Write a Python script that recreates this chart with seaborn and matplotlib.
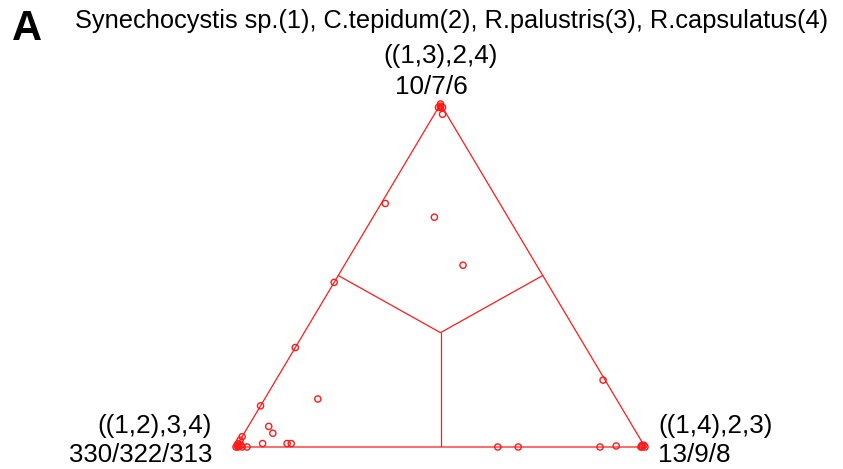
import numpy as np
import pandas as pd
import matplotlib
matplotlib.use("Agg")
import matplotlib.pyplot as plt
import seaborn as sns

# Likelihood mapping of quartets for four taxa
title = "Synechocystis sp.(1), C.tepidum(2), R.palustris(3), R.capsulatus(4)"
panel = "A"
topologies = ["((1,2),3,4)", "((1,4),2,3)", "((1,3),2,4)"]   # left, right, top corners
counts = ["330/322/313", "13/9/8", "10/7/6"]

# posterior weights of each quartet for the three topologies
w_left = [0.000, 0.005, 0.010, 0.000, 0.003, 0.010,
          0.280, 0.180, 0.180, 0.520, 0.710, 0.880,
          0.730, 0.890, 0.890, 0.930, 0.870, 0.860,
          0.970, 0.980, 0.995, 0.985, 0.973,
          1.000, 0.990, 0.990, 0.985, 0.995,
          0.360, 0.310, 0.110, 0.069, 0.007,
          0.000, 0.005, 0.010, 0.000, 0.005]
w_right = [0.000, 0.005, 0.000, 0.010, 0.003, 0.020,
           0.010, 0.150, 0.290, 0.000, 0.000, 0.000,
           0.130, 0.050, 0.070, 0.060, 0.120, 0.130,
           0.000, 0.000, 0.005, 0.015, 0.027,
           0.000, 0.005, 0.000, 0.010, 0.000,
           0.640, 0.690, 0.890, 0.928, 0.993,
           1.000, 0.990, 0.990, 0.995, 0.800]
w_top = [1.000, 0.990, 0.990, 0.990, 0.994, 0.970,
         0.710, 0.670, 0.530, 0.480, 0.290, 0.120,
         0.140, 0.060, 0.040, 0.010, 0.010, 0.010,
         0.030, 0.020, 0.000, 0.000, 0.000,
         0.000, 0.005, 0.010, 0.005, 0.005,
         0.000, 0.000, 0.000, 0.003, 0.000,
         0.000, 0.005, 0.000, 0.005, 0.195]

H = np.sqrt(3) / 2
corners = np.array([[0.0, 0.0], [1.0, 0.0], [0.5, H]])

W = np.column_stack([w_left, w_right, w_top])
W = W / W.sum(axis=1, keepdims=True)
xy = W @ corners
df = pd.DataFrame({"x": xy[:, 0], "y": xy[:, 1]})

sns.set_style("white")
plt.rcParams["font.family"] = ["Liberation Sans", "DejaVu Sans"]

FW, FH = 843, 469
fig = plt.figure(figsize=(FW / 100, FH / 100), dpi=100)

# axes placed so the simplex spans the middle of the figure
left_px, right_px, base_px, apex_px = 236, 645, 447, 104
ax = fig.add_axes([left_px / FW, (FH - base_px) / FH,
                   (right_px - left_px) / FW, (base_px - apex_px) / FH])
ax.set_xlim(0, 1)
ax.set_ylim(0, H)
ax.axis("off")

red = "#ff1a1a"
tri = np.vstack([corners, corners[:1]])
ax.plot(tri[:, 0], tri[:, 1], color=red, lw=0.9, clip_on=False)

# region boundaries: centroid to edge midpoints
centroid = corners.mean(axis=0)
for i, j in [(0, 1), (1, 2), (0, 2)]:
    mid = (corners[i] + corners[j]) / 2
    ax.plot([centroid[0], mid[0]], [centroid[1], mid[1]], color=red, lw=0.9)

sns.scatterplot(data=df, x="x", y="y", ax=ax, marker="o", s=20,
                facecolor="none", edgecolor=red, linewidth=1.0,
                clip_on=False, legend=False)


def ftext(x, y, s, **kw):
    fig.text(x / FW, 1 - y / FH, s, va="baseline", color="black", **kw)


ftext(12, 40, panel, fontsize=30, fontweight="bold", ha="left")
ftext(75, 28, title, fontsize=18.3, ha="left")
ftext(441, 63, topologies[2], fontsize=18.8, ha="center")
ftext(431, 94, counts[2], fontsize=18.8, ha="center")
ftext(212, 433, topologies[0], fontsize=18.8, ha="right")
ftext(212, 462, counts[0], fontsize=18.5, ha="right")
ftext(658, 433, topologies[1], fontsize=18.8, ha="left")
ftext(658, 462, counts[1], fontsize=18.8, ha="left")

fig.savefig("out.png", dpi=100)
